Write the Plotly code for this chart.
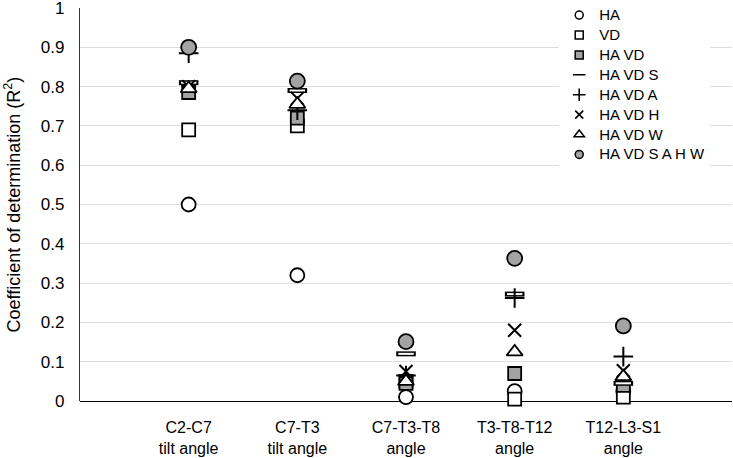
import plotly.graph_objects as go

categories = ["C2-C7<br>tilt angle", "C7-T3<br>tilt angle", "C7-T3-T8<br>angle",
              "T3-T8-T12<br>angle", "T12-L3-S1<br>angle"]
series_names = ["HA", "VD", "HA VD", "HA VD S", "HA VD A", "HA VD H", "HA VD W", "HA VD S A H W"]

ha = [0.50, 0.32, 0.01, 0.025, 0.025]
vd = [0.69, 0.70, 0.05, 0.005, 0.01]
ha_vd = [0.785, 0.72, 0.045, 0.07, 0.04]
ha_vd_s = [0.81, 0.79, 0.12, 0.272, 0.045]
ha_vd_a = [0.885, 0.74, 0.065, 0.262, 0.113]
ha_vd_h = [0.80, 0.77, 0.075, 0.18, 0.077]
ha_vd_w = [0.795, 0.755, 0.05, 0.125, 0.062]
ha_vd_all = [0.90, 0.814, 0.151, 0.363, 0.191]

series_values = [ha, vd, ha_vd, ha_vd_s, ha_vd_a, ha_vd_h, ha_vd_w, ha_vd_all]
ytick_vals = [0, 0.1, 0.2, 0.3, 0.4, 0.5, 0.6, 0.7, 0.8, 0.9, 1]
ytick_text = ["0", "0.1", "0.2", "0.3", "0.4", "0.5", "0.6", "0.7", "0.8", "0.9", "1"]

xpos = list(range(len(categories)))
GRAY = "#a3a3a3"
FONT = "Liberation Sans, Arial, Helvetica, sans-serif"

styles = [
    dict(symbol="circle", color="white", line=dict(color="black", width=1.8), size=14),
    dict(symbol="square", color="white", line=dict(color="black", width=1.8), size=13),
    dict(symbol="square", color=GRAY, line=dict(color="black", width=1.8), size=13),
    None,  # dash handled separately
    dict(symbol="cross-thin-open", color="black", line=dict(color="black", width=2), size=14),
    dict(symbol="x-thin-open", color="black", line=dict(color="black", width=2), size=13),
    dict(symbol="triangle-up", color="white", line=dict(color="black", width=1.8), size=14),
    dict(symbol="circle", color=GRAY, line=dict(color="black", width=1.8), size=15),
]
legend_styles = [
    dict(symbol="circle", color="white", line=dict(color="black", width=1.5), size=8),
    dict(symbol="square", color="white", line=dict(color="black", width=1.5), size=8),
    dict(symbol="square", color=GRAY, line=dict(color="black", width=1.5), size=8),
    dict(symbol="line-ew", color="black", line=dict(color="black", width=1.6), size=9),
    dict(symbol="cross-thin-open", color="black", line=dict(color="black", width=1.6), size=9),
    dict(symbol="x-thin-open", color="black", line=dict(color="black", width=1.6), size=8),
    dict(symbol="triangle-up", color="white", line=dict(color="black", width=1.5), size=9),
    dict(symbol="circle", color=GRAY, line=dict(color="black", width=1.5), size=8),
]

fig = go.Figure()
for i, (name, vals) in enumerate(zip(series_names, series_values)):
    if styles[i] is None:
        fig.add_trace(go.Scatter(x=xpos, y=vals, mode="markers", showlegend=False,
                                 cliponaxis=False, hoverinfo="skip",
                                 marker=dict(symbol="line-ew", size=14,
                                             line=dict(color="black", width=5))))
        fig.add_trace(go.Scatter(x=xpos, y=vals, mode="markers", showlegend=False,
                                 cliponaxis=False, name=name,
                                 marker=dict(symbol="line-ew", size=11,
                                             line=dict(color="white", width=2))))
    else:
        fig.add_trace(go.Scatter(x=xpos, y=vals, mode="markers", name=name,
                                 showlegend=False, cliponaxis=False,
                                 marker=styles[i]))
# legend entries
for i, name in enumerate(series_names):
    fig.add_trace(go.Scatter(x=[None], y=[None], mode="markers",
                             name="<span style='font-size:15px'>" + name + "</span>",
                             marker=legend_styles[i]))

fig.update_layout(
    width=733, height=458,
    margin=dict(l=80, r=1, t=8, b=57, autoexpand=False),
    paper_bgcolor="white", plot_bgcolor="white",
    font=dict(family=FONT, size=17, color="black"),
    legend=dict(x=0.735, y=1.02, xanchor="left", yanchor="top",
                bgcolor="white", font=dict(size=13, family=FONT),
                itemwidth=30, tracegroupgap=0,
                borderwidth=0),
    xaxis=dict(range=[-1, 5], tickvals=xpos, ticktext=categories,
               showgrid=False, zeroline=False, showline=False, automargin=False,
               ticks="", ticklabelstandoff=15, fixedrange=True,
               tickfont=dict(size=16, family=FONT)),
    yaxis=dict(range=[0, 1], tickvals=ytick_vals, ticktext=ytick_text,
               showgrid=True, gridcolor="#dedede", gridwidth=1, automargin=False,
               zeroline=True, zerolinecolor="black", zerolinewidth=1.3,
               showline=True, linecolor="#333333", linewidth=1.3,
               ticks="", ticklabelstandoff=11, ticklabeloverflow="allow"),
    annotations=[dict(text="Coefficient of determination (R<sup>2</sup>)",
                      xref="paper", yref="paper", x=-67/652, y=0.5,
                      xanchor="center", yanchor="middle", textangle=-90,
                      showarrow=False, font=dict(size=18, family=FONT))],
)

fig.write_html("out.html")
